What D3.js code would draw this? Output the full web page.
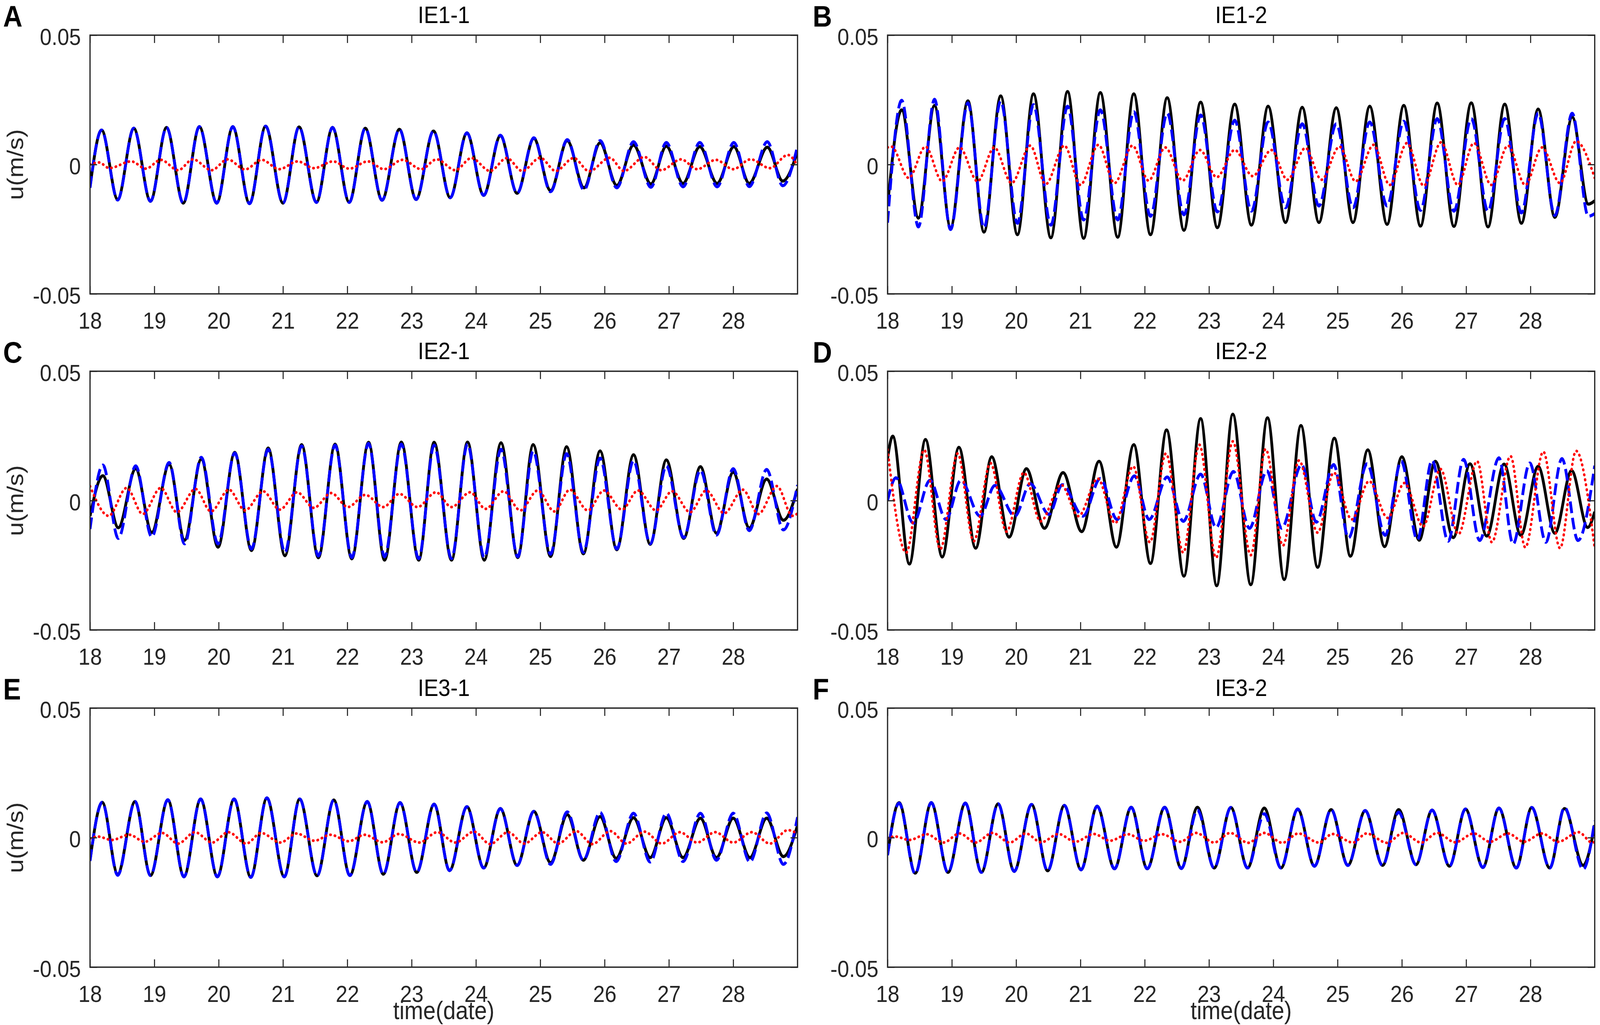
<!DOCTYPE html>
<html>
<head>
<meta charset="utf-8">
<script src="https://cdn.jsdelivr.net/npm/d3@7"></script>
<style>
html, body { margin: 0; padding: 0; background: #fff; overflow: hidden; }
svg { display: block; width: 100vw; height: 100vh; }
svg text { font-family: "Liberation Sans", Arial, Helvetica, sans-serif; }
</style>
</head>
<body>
<script>
(function(){

//axis ticks
var xTickValues = [18, 19, 20, 21, 22, 23, 24, 25, 26, 27, 28];
var yTickValues = [-0.05, 0, 0.05];
var yTickLabels = ["-0.05", "0", "0.05"];

//panel letters and titles
var panelLetters = ["A", "B", "C", "D", "E", "F"];
var panelTitles = ["IE1-1", "IE1-2", "IE2-1", "IE2-2", "IE3-1", "IE3-2"];

//extrema: time (date) and u (m/s)
//panel A
var tA = [18.00, 18.18, 18.43, 18.68, 18.94, 19.19, 19.45, 19.70, 19.97, 20.22,
          20.48, 20.73, 21.00, 21.25, 21.52, 21.77, 22.03, 22.28, 22.54, 22.81,
          23.07, 23.34, 23.60, 23.86, 24.12, 24.38, 24.64, 24.90, 25.16, 25.42,
          25.68, 25.93, 26.19, 26.45, 26.72, 26.96, 27.22, 27.48, 27.75, 28.01,
          28.25, 28.53, 28.77, 29.00];
var blackA = [-0.0086, 0.0133, -0.0135, 0.0140, -0.0142, 0.0143, -0.0149, 0.0146, -0.0149, 0.0146,
              -0.0151, 0.0148, -0.0149, 0.0145, -0.0146, 0.0143, -0.0146, 0.0140, -0.0138, 0.0136,
              -0.0135, 0.0129, -0.0128, 0.0122, -0.0119, 0.0111, -0.0111, 0.0101, -0.0101, 0.0092,
              -0.0090, 0.0084, -0.0081, 0.0075, -0.0075, 0.0071, -0.0073, 0.0069, -0.0073, 0.0069,
              -0.0073, 0.0067, -0.0064, 0.0050];
var blueA = [-0.0090, 0.0133, -0.0137, 0.0140, -0.0142, 0.0143, -0.0149, 0.0146, -0.0149, 0.0146,
             -0.0151, 0.0148, -0.0149, 0.0145, -0.0146, 0.0143, -0.0146, 0.0140, -0.0138, 0.0136,
             -0.0135, 0.0129, -0.0128, 0.0122, -0.0119, 0.0113, -0.0111, 0.0103, -0.0105, 0.0096,
             -0.0098, 0.0092, -0.0090, 0.0088, -0.0088, 0.0085, -0.0086, 0.0085, -0.0086, 0.0085,
             -0.0085, 0.0088, -0.0082, 0.0071];
var tRedA = [18.00, 18.14, 18.30, 18.64, 18.87, 19.10, 19.37, 19.60, 19.89, 20.14,
             20.41, 20.67, 20.94, 21.23, 21.48, 21.78, 22.03, 22.32, 22.57, 22.86,
             23.15, 23.39, 23.68, 23.93, 24.22, 24.48, 24.72, 25.00, 25.24, 25.52,
             25.76, 26.08, 26.30, 26.62, 26.88, 27.19, 27.44, 27.73, 28.00, 28.27,
             28.57, 28.85, 29.00];
var redA = [0.0000, 0.0008, -0.0014, 0.0012, -0.0016, 0.0018, -0.0022, 0.0020, -0.0022, 0.0020,
            -0.0019, 0.0018, -0.0018, 0.0012, -0.0014, 0.0012, -0.0016, 0.0012, -0.0018, 0.0018,
            -0.0018, 0.0020, -0.0022, 0.0025, -0.0025, 0.0025, -0.0025, 0.0026, -0.0025, 0.0025,
            -0.0026, 0.0026, -0.0025, 0.0029, -0.0022, 0.0020, -0.0018, 0.0018, -0.0018, 0.0020,
            -0.0014, 0.0037, -0.0005];

//panel B
var tB = [18.00, 18.22, 18.48, 18.73, 18.98, 19.25, 19.50, 19.76, 20.02, 20.27,
          20.54, 20.80, 21.05, 21.31, 21.58, 21.83, 22.09, 22.35, 22.61, 22.87,
          23.13, 23.40, 23.66, 23.92, 24.19, 24.45, 24.71, 24.98, 25.24, 25.50,
          25.77, 26.03, 26.29, 26.55, 26.81, 27.08, 27.34, 27.60, 27.86, 28.12,
          28.38, 28.65, 28.90, 29.00];
var blackB = [-0.0160, 0.0211, -0.0207, 0.0228, -0.0244, 0.0246, -0.0261, 0.0265, -0.0271, 0.0273,
              -0.0283, 0.0282, -0.0285, 0.0278, -0.0281, 0.0273, -0.0271, 0.0258, -0.0254, 0.0241,
              -0.0244, 0.0233, -0.0234, 0.0225, -0.0224, 0.0221, -0.0224, 0.0219, -0.0224, 0.0225,
              -0.0231, 0.0228, -0.0238, 0.0237, -0.0239, 0.0238, -0.0241, 0.0233, -0.0227, 0.0214,
              -0.0204, 0.0184, -0.0153, -0.0140];
var blueB = [-0.0225, 0.0248, -0.0241, 0.0252, -0.0251, 0.0238, -0.0244, 0.0245, -0.0227, 0.0231,
             -0.0234, 0.0225, -0.0214, 0.0211, -0.0214, 0.0204, -0.0200, 0.0198, -0.0194, 0.0191,
             -0.0183, 0.0171, -0.0180, 0.0164, -0.0167, 0.0157, -0.0160, 0.0157, -0.0167, 0.0164,
             -0.0160, 0.0167, -0.0177, 0.0177, -0.0180, 0.0177, -0.0180, 0.0177, -0.0187, 0.0198,
             -0.0197, 0.0198, -0.0200, -0.0190];
var tRedB = [18.00, 18.06, 18.33, 18.59, 18.85, 19.12, 19.40, 19.66, 19.93, 20.22,
             20.46, 20.75, 21.00, 21.28, 21.53, 21.81, 22.06, 22.32, 22.59, 22.86,
             23.12, 23.40, 23.68, 23.97, 24.22, 24.50, 24.75, 25.03, 25.28, 25.56,
             25.81, 26.08, 26.34, 26.61, 26.87, 27.12, 27.39, 27.65, 27.92, 28.18,
             28.46, 28.71, 29.00];
var redB = [0.0066, 0.0069, -0.0052, 0.0069, -0.0065, 0.0066, -0.0065, 0.0066, -0.0072, 0.0073,
            -0.0076, 0.0073, -0.0079, 0.0076, -0.0072, 0.0073, -0.0062, 0.0066, -0.0062, 0.0056,
            -0.0049, 0.0056, -0.0045, 0.0056, -0.0059, 0.0064, -0.0059, 0.0069, -0.0065, 0.0076,
            -0.0079, 0.0083, -0.0082, 0.0086, -0.0079, 0.0083, -0.0079, 0.0073, -0.0079, 0.0066,
            -0.0072, 0.0090, -0.0052];

//panel C
var tC = [18.00, 18.20, 18.44, 18.71, 18.96, 19.23, 19.47, 19.73, 19.99, 20.25,
          20.51, 20.77, 21.03, 21.29, 21.55, 21.81, 22.07, 22.33, 22.58, 22.84,
          23.11, 23.35, 23.62, 23.87, 24.13, 24.39, 24.65, 24.89, 25.16, 25.41,
          25.67, 25.93, 26.19, 26.45, 26.71, 26.96, 27.23, 27.49, 27.74, 28.00,
          28.25, 28.52, 28.78, 29.00];
var blackC = [-0.0060, 0.0096, -0.0105, 0.0123, -0.0123, 0.0140, -0.0153, 0.0160, -0.0180, 0.0186,
              -0.0193, 0.0203, -0.0213, 0.0216, -0.0221, 0.0218, -0.0225, 0.0225, -0.0230, 0.0226,
              -0.0230, 0.0225, -0.0230, 0.0226, -0.0230, 0.0223, -0.0220, 0.0216, -0.0216, 0.0208,
              -0.0206, 0.0192, -0.0190, 0.0177, -0.0169, 0.0157, -0.0146, 0.0131, -0.0126, 0.0110,
              -0.0106, 0.0083, -0.0076, 0.0045];
var blueC = [-0.0110, 0.0137, -0.0146, 0.0134, -0.0140, 0.0147, -0.0167, 0.0167, -0.0167, 0.0184,
             -0.0187, 0.0198, -0.0200, 0.0211, -0.0214, 0.0214, -0.0220, 0.0221, -0.0217, 0.0218,
             -0.0224, 0.0214, -0.0224, 0.0218, -0.0220, 0.0198, -0.0217, 0.0191, -0.0207, 0.0181,
             -0.0200, 0.0164, -0.0187, 0.0154, -0.0167, 0.0134, -0.0143, 0.0117, -0.0133, 0.0123,
             -0.0116, 0.0120, -0.0113, 0.0060];
var tRedC = [18.00, 18.29, 18.57, 18.82, 19.10, 19.35, 19.64, 19.88, 20.16, 20.41,
             20.69, 20.95, 21.22, 21.48, 21.75, 22.01, 22.28, 22.56, 22.81, 23.09,
             23.38, 23.62, 23.91, 24.15, 24.43, 24.69, 24.96, 25.22, 25.46, 25.74,
             25.99, 26.27, 26.52, 26.80, 27.05, 27.33, 27.58, 27.86, 28.15, 28.39,
             28.68, 28.92, 29.00];
var redC = [0.0056, -0.0059, 0.0049, -0.0052, 0.0049, -0.0045, 0.0045, -0.0042, 0.0042, -0.0038,
            0.0036, -0.0035, 0.0032, -0.0028, 0.0029, -0.0025, 0.0022, -0.0025, 0.0026, -0.0025,
            0.0032, -0.0025, 0.0032, -0.0032, 0.0036, -0.0038, 0.0039, -0.0042, 0.0042, -0.0038,
            0.0039, -0.0035, 0.0039, -0.0038, 0.0036, -0.0045, 0.0039, -0.0049, 0.0042, -0.0052,
            0.0056, -0.0059, -0.0050];

//panel D
var tD = [18.00, 18.08, 18.34, 18.59, 18.85, 19.11, 19.37, 19.62, 19.89, 20.16,
          20.44, 20.73, 21.02, 21.29, 21.56, 21.83, 22.09, 22.34, 22.61, 22.87,
          23.12, 23.37, 23.65, 23.91, 24.17, 24.43, 24.69, 24.95, 25.20, 25.47,
          25.73, 26.00, 26.27, 26.52, 26.80, 27.06, 27.32, 27.59, 27.85, 28.12,
          28.38, 28.64, 28.89, 29.00];
var blackD = [0.0162, 0.0249, -0.0245, 0.0236, -0.0218, 0.0206, -0.0184, 0.0169, -0.0141, 0.0123,
              -0.0107, 0.0108, -0.0120, 0.0152, -0.0180, 0.0216, -0.0243, 0.0273, -0.0292, 0.0317,
              -0.0329, 0.0334, -0.0325, 0.0320, -0.0305, 0.0290, -0.0258, 0.0241, -0.0215, 0.0196,
              -0.0178, 0.0169, -0.0153, 0.0152, -0.0143, 0.0142, -0.0137, 0.0141, -0.0134, 0.0132,
              -0.0126, 0.0116, -0.0104, -0.0043];
var tBlueD = [18.00, 18.13, 18.40, 18.66, 18.91, 19.14, 19.44, 19.67, 19.98, 20.22,
              20.51, 20.72, 21.04, 21.31, 21.57, 21.84, 22.07, 22.35, 22.60, 22.87,
              23.11, 23.38, 23.63, 23.90, 24.13, 24.44, 24.67, 24.94, 25.17, 25.46,
              25.74, 25.99, 26.24, 26.47, 26.72, 26.96, 27.21, 27.51, 27.73, 27.99,
              28.24, 28.49, 28.74, 29.00];
var blueD = [0.0000, 0.0088, -0.0087, 0.0078, -0.0073, 0.0078, -0.0060, 0.0058, -0.0060, 0.0065,
             -0.0053, 0.0061, -0.0060, 0.0085, -0.0073, 0.0095, -0.0073, 0.0091, -0.0080, 0.0102,
             -0.0104, 0.0112, -0.0107, 0.0115, -0.0107, 0.0139, -0.0083, 0.0139, -0.0144, 0.0142,
             -0.0134, 0.0152, -0.0151, 0.0155, -0.0157, 0.0159, -0.0154, 0.0165, -0.0168, 0.0145,
             -0.0161, 0.0162, -0.0154, 0.0135];
var tRedD = [18.00, 18.29, 18.57, 18.82, 19.09, 19.34, 19.60, 19.85, 20.12, 20.38,
             20.70, 20.97, 21.27, 21.54, 21.82, 22.08, 22.33, 22.60, 22.85, 23.11,
             23.37, 23.65, 23.88, 24.15, 24.40, 24.69, 24.94, 25.22, 25.49, 25.78,
             26.04, 26.33, 26.60, 26.88, 27.17, 27.40, 27.69, 27.92, 28.20, 28.46,
             28.71, 29.00];
var redD = [0.0197, -0.0201, 0.0196, -0.0188, 0.0182, -0.0157, 0.0145, -0.0120, 0.0108, -0.0080,
            0.0061, -0.0060, 0.0085, -0.0087, 0.0132, -0.0161, 0.0182, -0.0201, 0.0216, -0.0221,
            0.0229, -0.0211, 0.0199, -0.0174, 0.0155, -0.0124, 0.0108, -0.0073, 0.0075, -0.0067,
            0.0068, -0.0100, 0.0122, -0.0130, 0.0152, -0.0161, 0.0172, -0.0181, 0.0189, -0.0184,
            0.0192, -0.0184];

//panel E
var tE = [18.00, 18.19, 18.43, 18.70, 18.94, 19.21, 19.46, 19.72, 19.98, 20.24,
          20.50, 20.75, 21.02, 21.26, 21.53, 21.79, 22.04, 22.31, 22.56, 22.82,
          23.08, 23.35, 23.59, 23.86, 24.12, 24.38, 24.64, 24.90, 25.16, 25.42,
          25.67, 25.93, 26.18, 26.45, 26.71, 26.96, 27.22, 27.49, 27.74, 28.00,
          28.26, 28.52, 28.78, 29.00];
var blackE = [-0.0087, 0.0136, -0.0141, 0.0139, -0.0146, 0.0146, -0.0151, 0.0149, -0.0151, 0.0149,
              -0.0153, 0.0153, -0.0151, 0.0149, -0.0147, 0.0145, -0.0146, 0.0139, -0.0141, 0.0135,
              -0.0134, 0.0129, -0.0127, 0.0119, -0.0117, 0.0112, -0.0107, 0.0101, -0.0097, 0.0089,
              -0.0087, 0.0081, -0.0080, 0.0077, -0.0077, 0.0077, -0.0077, 0.0075, -0.0077, 0.0075,
              -0.0077, 0.0075, -0.0073, 0.0048];
var blueE = [-0.0090, 0.0136, -0.0145, 0.0139, -0.0146, 0.0146, -0.0151, 0.0149, -0.0151, 0.0149,
             -0.0153, 0.0153, -0.0151, 0.0149, -0.0147, 0.0145, -0.0146, 0.0139, -0.0141, 0.0135,
             -0.0134, 0.0129, -0.0127, 0.0119, -0.0117, 0.0112, -0.0107, 0.0101, -0.0103, 0.0099,
             -0.0087, 0.0097, -0.0092, 0.0094, -0.0094, 0.0094, -0.0092, 0.0094, -0.0087, 0.0094,
             -0.0094, 0.0095, -0.0103, 0.0079];
var tRedE = [18.00, 18.12, 18.34, 18.61, 18.85, 19.12, 19.37, 19.63, 19.90, 20.15,
             20.43, 20.66, 20.96, 21.21, 21.49, 21.74, 22.02, 22.27, 22.55, 22.80,
             23.12, 23.40, 23.68, 23.97, 24.22, 24.50, 24.75, 25.03, 25.28, 25.56,
             25.81, 26.09, 26.34, 26.62, 26.89, 27.17, 27.44, 27.72, 28.00, 28.29,
             28.57, 28.85, 29.00];
var redE = [-0.0003, 0.0004, -0.0009, 0.0011, -0.0016, 0.0018, -0.0023, 0.0021, -0.0019, 0.0021,
            -0.0023, 0.0018, -0.0019, 0.0016, -0.0012, 0.0011, -0.0014, 0.0011, -0.0018, 0.0014,
            -0.0019, 0.0021, -0.0019, 0.0023, -0.0025, 0.0021, -0.0023, 0.0021, -0.0023, 0.0025,
            -0.0025, 0.0025, -0.0023, 0.0023, -0.0023, 0.0021, -0.0019, 0.0021, -0.0019, 0.0021,
            -0.0023, 0.0029, 0.0015];

//panel F
var tF = [18.00, 18.18, 18.43, 18.68, 18.94, 19.21, 19.46, 19.72, 19.97, 20.24,
          20.49, 20.75, 21.01, 21.26, 21.53, 21.79, 22.04, 22.31, 22.57, 22.82,
          23.08, 23.34, 23.60, 23.86, 24.12, 24.38, 24.64, 24.90, 25.16, 25.43,
          25.70, 25.95, 26.22, 26.47, 26.74, 26.99, 27.26, 27.51, 27.78, 28.02,
          28.30, 28.53, 28.82, 29.00];
var blackF = [-0.0066, 0.0135, -0.0137, 0.0135, -0.0134, 0.0133, -0.0134, 0.0130, -0.0130, 0.0128,
              -0.0128, 0.0124, -0.0124, 0.0121, -0.0120, 0.0117, -0.0120, 0.0117, -0.0119, 0.0117,
              -0.0117, 0.0116, -0.0117, 0.0114, -0.0117, 0.0110, -0.0110, 0.0108, -0.0107, 0.0104,
              -0.0107, 0.0108, -0.0104, 0.0106, -0.0110, 0.0110, -0.0115, 0.0114, -0.0117, 0.0116,
              -0.0117, 0.0112, -0.0107, 0.0048];
var blueF = [-0.0068, 0.0133, -0.0139, 0.0135, -0.0134, 0.0133, -0.0134, 0.0130, -0.0130, 0.0128,
             -0.0128, 0.0124, -0.0124, 0.0121, -0.0120, 0.0117, -0.0120, 0.0117, -0.0119, 0.0106,
             -0.0117, 0.0116, -0.0117, 0.0092, -0.0117, 0.0110, -0.0110, 0.0108, -0.0107, 0.0104,
             -0.0107, 0.0098, -0.0104, 0.0106, -0.0110, 0.0110, -0.0115, 0.0114, -0.0117, 0.0116,
             -0.0117, 0.0116, -0.0122, 0.0065];
var tRedF = [18.00, 18.12, 18.34, 18.61, 18.87, 19.12, 19.37, 19.63, 19.90, 20.15,
             20.39, 20.66, 20.92, 21.21, 21.46, 21.74, 21.99, 22.27, 22.55, 22.80,
             23.08, 23.33, 23.61, 23.86, 24.14, 24.39, 24.71, 24.92, 25.24, 25.45,
             25.77, 26.02, 26.30, 26.55, 26.83, 27.12, 27.37, 27.65, 27.90, 28.18,
             28.43, 28.75, 28.96, 29.00];
var redF = [-0.0002, 0.0004, -0.0009, 0.0013, -0.0019, 0.0016, -0.0019, 0.0018, -0.0019, 0.0016,
            -0.0018, 0.0014, -0.0016, 0.0014, -0.0012, 0.0013, -0.0012, 0.0013, -0.0016, 0.0018,
            -0.0019, 0.0018, -0.0020, 0.0018, -0.0020, 0.0016, -0.0019, 0.0014, -0.0019, 0.0016,
            -0.0020, 0.0018, -0.0019, 0.0018, -0.0018, 0.0016, -0.0016, 0.0016, -0.0016, 0.0016,
            -0.0016, 0.0021, -0.0019, -0.0017];

//series for each panel, in drawing order: black solid, blue dashed, red dotted
var panelSeries = [
    [[tA, blackA], [tA, blueA], [tRedA, redA]],
    [[tB, blackB], [tB, blueB], [tRedB, redB]],
    [[tC, blackC], [tC, blueC], [tRedC, redC]],
    [[tD, blackD], [tBlueD, blueD], [tRedD, redD]],
    [[tE, blackE], [tE, blueE], [tRedE, redE]],
    [[tF, blackF], [tF, blueF], [tRedF, redF]]
];

//line styles
var lineStyles = [
    {color: "#000000", dash: null, width: 8, cap: "butt"},
    {color: "#0000ff", dash: "30,12", width: 8, cap: "butt"},
    {color: "#ff0000", dash: "1,12", width: 7, cap: "round"}
];

//drawing frame (viewBox units, stretched to the window)
var width = 4550,
    height = 2623,
    colX = [[256, 2268], [2524, 4535]],
    rowY = [[90, 752], [950, 1612], [1812, 2475]],
    letterX = [9, 2311],
    axisColor = "#262626",
    tickLen = 20;

var svg = d3.select("body")
    .append("svg")
    .attr("viewBox", "0 0 " + width + " " + height)
    .attr("preserveAspectRatio", "none");

svg.append("rect")
    .attr("width", width)
    .attr("height", height)
    .attr("fill", "#fff");

var defs = svg.append("defs");

panelLetters.forEach(function(letter, i){
    drawPanel(i, i % 2, Math.floor(i / 2));
});

function drawPanel(i, col, row){
    var x0 = colX[col][0], x1 = colX[col][1],
        y0 = rowY[row][0], y1 = rowY[row][1];

    var x = d3.scaleLinear().domain([18, 29]).range([x0, x1]);
    var y = d3.scaleLinear().domain([-0.05, 0.05]).range([y1, y0]);

    var g = svg.append("g").attr("class", "panel" + panelLetters[i]);

    //clip the curves to the axes box
    defs.append("clipPath")
        .attr("id", "clip" + i)
        .append("rect")
        .attr("x", x0)
        .attr("y", y0)
        .attr("width", x1 - x0)
        .attr("height", y1 - y0);

    var line = d3.line()
        .x(function(d){ return x(d[0]); })
        .y(function(d){ return y(d[1]); })
        .curve(d3.curveMonotoneX);

    var plot = g.append("g").attr("clip-path", "url(#clip" + i + ")");

    panelSeries[i].forEach(function(s, k){
        plot.append("path")
            .datum(d3.zip(s[0], s[1]))
            .attr("d", line)
            .attr("fill", "none")
            .attr("stroke", lineStyles[k].color)
            .attr("stroke-width", lineStyles[k].width)
            .attr("stroke-linejoin", "round")
            .attr("stroke-linecap", lineStyles[k].cap)
            .attr("stroke-dasharray", lineStyles[k].dash);
    });

    //axes with inward ticks on all four sides
    var bottomAxis = g.append("g")
        .attr("transform", "translate(0," + y1 + ")")
        .call(d3.axisBottom(x).tickValues(xTickValues).tickFormat(d3.format("d")).tickSize(-tickLen));
    bottomAxis.selectAll("text")
        .attr("y", 89)
        .attr("dy", null)
        .style("font-size", "60px")
        .attr("fill", axisColor);

    g.append("g")
        .attr("transform", "translate(0," + y0 + ")")
        .call(d3.axisTop(x).tickValues(xTickValues).tickFormat("").tickSize(-tickLen));

    var leftAxis = g.append("g")
        .attr("transform", "translate(" + x0 + ",0)")
        .call(d3.axisLeft(y).tickValues(yTickValues)
            .tickFormat(function(d, j){ return yTickLabels[j]; })
            .tickSize(-tickLen).tickPadding(26));
    leftAxis.selectAll("text")
        .attr("dy", "0.4em")
        .style("font-size", "60px")
        .attr("fill", axisColor);

    g.append("g")
        .attr("transform", "translate(" + x1 + ",0)")
        .call(d3.axisRight(y).tickValues(yTickValues).tickFormat("").tickSize(-tickLen));

    g.selectAll(".domain").remove();
    g.selectAll(".tick line")
        .attr("stroke", axisColor)
        .attr("stroke-width", 3);

    //box
    g.append("rect")
        .attr("x", x0)
        .attr("y", y0)
        .attr("width", x1 - x0)
        .attr("height", y1 - y0)
        .attr("fill", "none")
        .attr("stroke", axisColor)
        .attr("stroke-width", 3.5);

    //title
    g.append("text")
        .attr("x", (x0 + x1) / 2)
        .attr("y", y0 - 31)
        .attr("text-anchor", "middle")
        .style("font-size", "62px")
        .attr("fill", "#000")
        .text(panelTitles[i]);

    //panel letter
    g.append("text")
        .attr("x", letterX[col])
        .attr("y", y0 - 22)
        .style("font-size", "76px")
        .style("font-weight", "bold")
        .attr("fill", "#000")
        .text(panelLetters[i]);

    //y label on the left column
    if (col === 0){
        g.append("text")
            .attr("transform", "translate(66," + ((y0 + y1) / 2) + ") rotate(-90)")
            .attr("text-anchor", "middle")
            .style("font-size", "64px")
            .attr("fill", axisColor)
            .text("u(m/s)");
    }

    //x label on the bottom row
    if (row === 2){
        g.append("text")
            .attr("x", (x0 + x1) / 2)
            .attr("y", y1 + 133)
            .attr("text-anchor", "middle")
            .style("font-size", "64px")
            .attr("fill", axisColor)
            .text("time(date)");
    }
}

})();
</script>
</body>
</html>
